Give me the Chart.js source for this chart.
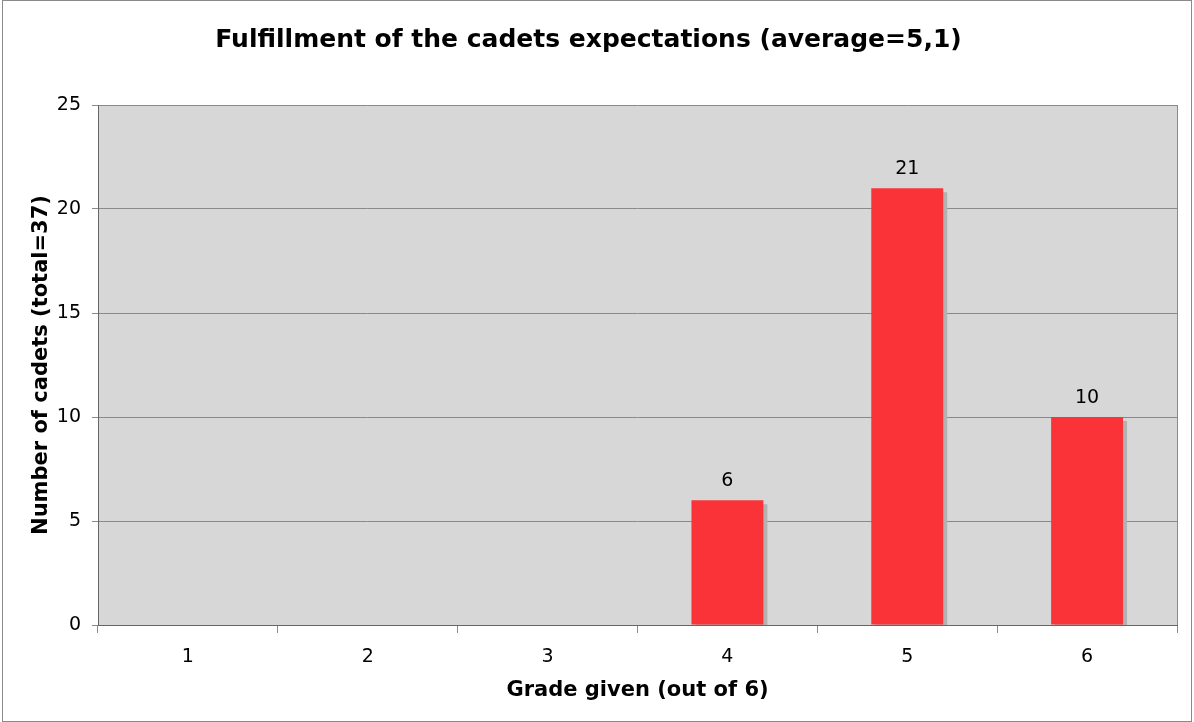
<!DOCTYPE html>
<html>
<head>
<meta charset="utf-8">
<script src="https://cdn.jsdelivr.net/npm/chart.js@4"></script>
<style>
  html, body { margin: 0; padding: 0; background: #fff; }
  #wrap { width: 1194px; height: 722px; position: relative; }
</style>
</head>
<body>
<div id="wrap"><canvas id="grafico"></canvas></div>
<script>
// datos
const grades = ['1', '2', '3', '4', '5', '6'];
const cadets = [0, 0, 0, 6, 21, 10];
const yTicks = [0, 5, 10, 15, 20, 25];

const fontFam = '"DejaVu Sans", Verdana, sans-serif';

// fondo gris del area y marco
const plotBg = {
  id: 'plotBg',
  beforeDraw(chart) {
    const { ctx, chartArea: a } = chart;
    ctx.save();
    ctx.strokeStyle = '#8a8a8a';
    ctx.lineWidth = 1;
    ctx.strokeRect(2.5, 0.5, 1189, 721);
    ctx.fillStyle = '#d7d7d7';
    ctx.fillRect(a.left, a.top, a.right - a.left, a.bottom - a.top);
    ctx.restore();
  },
  afterDatasetsDraw(chart) {
    const { ctx, chartArea: a } = chart;
    ctx.save();
    ctx.strokeStyle = '#8a8a8a';
    ctx.lineWidth = 1;
    ctx.beginPath();
    ctx.moveTo(Math.round(a.right) + 0.5, a.top);
    ctx.lineTo(Math.round(a.right) + 0.5, a.bottom);
    ctx.stroke();
    ctx.strokeStyle = '#666';
    ctx.beginPath();
    ctx.moveTo(Math.round(a.left) + 0.5, a.top);
    ctx.lineTo(Math.round(a.left) + 0.5, a.bottom);
    ctx.stroke();
    ctx.restore();
  }
};

// sombra de las barras
const barShadow = {
  id: 'barShadow',
  beforeDatasetDraw(chart) {
    const ctx = chart.ctx;
    ctx.save();
    ctx.shadowColor = '#b2b2b2';
    ctx.shadowOffsetX = 4;
    ctx.shadowOffsetY = 4;
    ctx.shadowBlur = 0;
  },
  afterDatasetDraw(chart) {
    chart.ctx.restore();
  }
};

// etiquetas de valor
const valueLabels = {
  id: 'valueLabels',
  afterDatasetsDraw(chart) {
    const ctx = chart.ctx;
    const meta = chart.getDatasetMeta(0);
    ctx.save();
    ctx.font = '19px ' + fontFam;
    ctx.fillStyle = '#000';
    ctx.textAlign = 'center';
    ctx.textBaseline = 'middle';
    meta.data.forEach((bar, i) => {
      const v = chart.data.datasets[0].data[i];
      if (!v) return;
      ctx.fillText(String(v), bar.x, bar.y - 19);
    });
    ctx.restore();
  }
};

const config = {
  type: 'bar',
  data: {
    labels: grades,
    datasets: [{
      data: cadets,
      backgroundColor: '#f93338',
      borderWidth: 0,
      barPercentage: 0.8,
      categoryPercentage: 0.5
    }]
  },
  options: {
    responsive: true,
    maintainAspectRatio: false,
    animation: false,
    layout: { padding: { left: 0, right: 17, top: 0, bottom: 0 } },
    plugins: {
      legend: { display: false },
      tooltip: { enabled: false },
      title: {
        display: true,
        text: 'Fulfillment of the cadets expectations (average=5,1)',
        color: '#000',
        font: { family: fontFam, size: 25, weight: 'bold' },
        padding: { top: 25, bottom: 50 }
      }
    },
    scales: {
      x: {
        offset: true,
        grid: {
          offset: true,
          drawOnChartArea: false,
          drawTicks: true,
          tickLength: 8,
          color: '#8a8a8a'
        },
        border: { color: '#666' },
        ticks: {
          color: '#000',
          font: { family: fontFam, size: 19 },
          padding: 13
        },
        title: {
          display: true,
          text: 'Grade given (out of 6)',
          color: '#000',
          font: { family: fontFam, size: 21, weight: 'bold' },
          padding: { top: 10, bottom: 19 }
        },
        afterFit(scale) { scale.height = 97; }
      },
      y: {
        min: 0,
        max: 25,
        afterBuildTicks(scale) {
          scale.ticks = yTicks.map(v => ({ value: v }));
        },
        grid: {
          color: '#8a8a8a',
          tickLength: 6
        },
        border: { display: false },
        ticks: {
          color: '#000',
          font: { family: fontFam, size: 19 },
          padding: 11
        },
        title: {
          display: true,
          text: 'Number of cadets (total=37)',
          color: '#000',
          font: { family: fontFam, size: 21, weight: 'bold' },
          padding: { top: 29, bottom: 0 }
        },
        afterFit(scale) { scale.width = 98; }
      }
    }
  },
  plugins: [plotBg, barShadow, valueLabels]
};

var grafico = new Chart(document.getElementById('grafico'), config);
</script>
</body>
</html>
